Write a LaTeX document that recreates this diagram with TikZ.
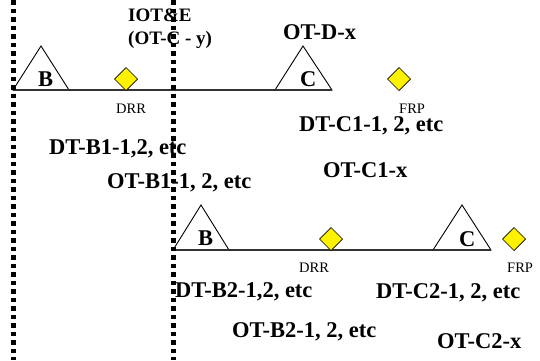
\documentclass[tikz,border=0pt]{standalone}
\usepackage{fontspec}
\setmainfont{Liberation Serif}
\begin{document}
\begin{tikzpicture}[x=1pt,y=-1pt,
  lbl/.style={anchor=base west,inner sep=0pt,font=\bfseries\fontsize{22.5}{27}\selectfont},
  toplbl/.style={anchor=base west,inner sep=0pt,font=\bfseries\fontsize{19}{23}\selectfont},
  small/.style={anchor=base west,inner sep=0pt,font=\fontsize{14.5}{17}\selectfont},
  tri/.style={draw=black,line width=0.9pt,fill=white},
  base/.style={draw=black!80,line width=1.6pt},
  gem/.style={draw=black,line width=0.7pt,fill=yellow},
  fence/.style={draw=black,line width=5pt,dash pattern=on 4.8pt off 3.7pt}]
\useasboundingbox (0,0) rectangle (540,360);
% coordinates
\coordinate (l1a) at (13,90);
\coordinate (l1b) at (275,90);
\coordinate (l2a) at (173,250);
\coordinate (l2b) at (433,250);
% base lines
\draw[base] (l1a) -- (l1b);
\draw[base] (l2a) -- (l2b);
% triangles
\draw[tri] (13,90) -- (41,46) -- (69,90) -- cycle;
\draw[tri] (275,90) -- (303,46) -- (332,90) -- cycle;
\draw[tri] (173,250) -- (201,205) -- (229,250) -- cycle;
\draw[tri] (433,250) -- (462,205) -- (491,250) -- cycle;
\draw[base] (13,90) -- (69,90) (275,90) -- (332,90) (173,250) -- (229,250) (433,250) -- (491,250);
% diamonds
\foreach \n/\cx/\cy in {d1/126/79, d2/399/79, d3/331/239, d4/514/239}{
  \draw[gem] (\cx-11.5,\cy) -- (\cx,\cy-11.5) -- (\cx+11.5,\cy) -- (\cx,\cy+11.5) -- cycle;
}
% triangle labels
\node[lbl] (tB1) at (38,86) {B};
\node[lbl] (tC1) at (300,86) {C};
\node[lbl] (tB2) at (198,245) {B};
\node[lbl] (tC2) at (459,246) {C};
% small labels
\node[small] (drr1) at (116,113) {DRR};
\node[small] (frp1) at (399,113) {FRP};
\node[small] (drr2) at (299,272) {DRR};
\node[small] (frp2) at (507,272) {FRP};
% top labels
\node[toplbl] (iot) at (128,21.5) {IOT\&E};
\node[toplbl] (otcy) at (128,44) {(OT-C - y)};
\node[lbl] (otd) at (283,39) {OT-D-x};
% row 1 labels
\node[lbl] (dtc1) at (299,131) {DT-C1-1, 2, etc};
\node[lbl] (dtb1) at (49,154) {DT-B1-1,2, etc};
\node[lbl] (otc1) at (323,177) {OT-C1-x};
\node[lbl] (otb1) at (107,188) {OT-B1-1, 2, etc};
% row 2 labels
\node[lbl] (dtb2) at (175,297) {DT-B2-1,2, etc};
\node[lbl] (dtc2) at (376,298) {DT-C2-1, 2, etc};
\node[lbl] (otb2) at (232,337) {OT-B2-1, 2, etc};
\node[lbl] (otc2) at (437,348) {OT-C2-x};
% dotted fences
\coordinate (f1t) at (13,0);
\coordinate (f1b) at (13,360);
\coordinate (f2t) at (173,0);
\coordinate (f2b) at (173,360);
\draw[fence] (f1t) -- (f1b);
\draw[fence] (f2t) -- (f2b);
\end{tikzpicture}
\end{document}
